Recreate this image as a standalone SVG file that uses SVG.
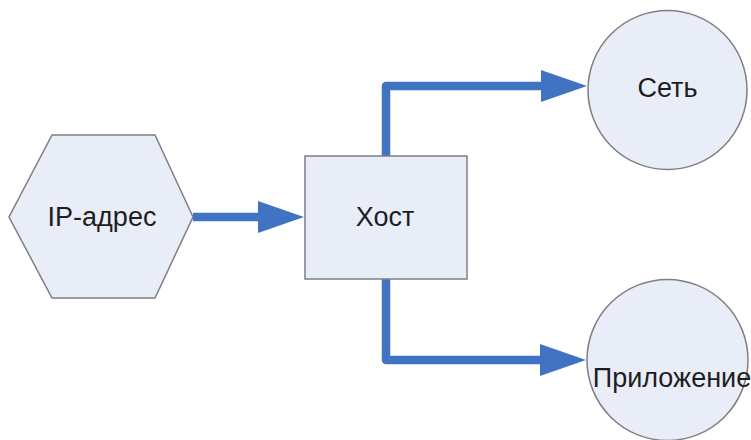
<svg xmlns="http://www.w3.org/2000/svg" width="751" height="440" viewBox="0 0 751 440">
<style>
.node{fill:#e9edf8;stroke:#7f7f7f;stroke-width:1.5}
.lbl{font-family:"Liberation Sans",Arial,sans-serif;font-size:27px;fill:#1e1e1e;text-anchor:middle}
.conn{fill:none;stroke:#4173c3;stroke-width:8.5;stroke-linejoin:round;marker-end:url(#ah)}
</style>
<defs>
<marker id="ah" markerUnits="userSpaceOnUse" markerWidth="50" markerHeight="36" refX="1" refY="16" orient="auto" overflow="visible">
<path d="M0,0 L46,16 L0,32 Z" fill="#4173c3"/>
</marker>
</defs>
<rect width="751" height="440" fill="#ffffff"/>
<g id="connectors">
<path class="conn" d="M193,217 L259,217"/>
<path class="conn" d="M386,156 L386,86 L542,86"/>
<path class="conn" d="M386,279 L386,360 L541,360"/>
</g>
<g id="ip">
<polygon class="node" points="52,135 155,135 193,217 155,298 52,298 9,217"/>
<text class="lbl" x="102" y="226">IP-адрес</text>
</g>
<g id="host">
<rect class="node" x="305" y="156" width="162" height="123"/>
<text class="lbl" x="385" y="226">Хост</text>
</g>
<g id="net">
<circle class="node" cx="667.5" cy="90" r="79.5"/>
<text class="lbl" x="667.5" y="97">Сеть</text>
</g>
<g id="app">
<circle class="node" cx="667.5" cy="360" r="80.5"/>
<text class="lbl" x="672" y="387">Приложение</text>
</g>
</svg>
